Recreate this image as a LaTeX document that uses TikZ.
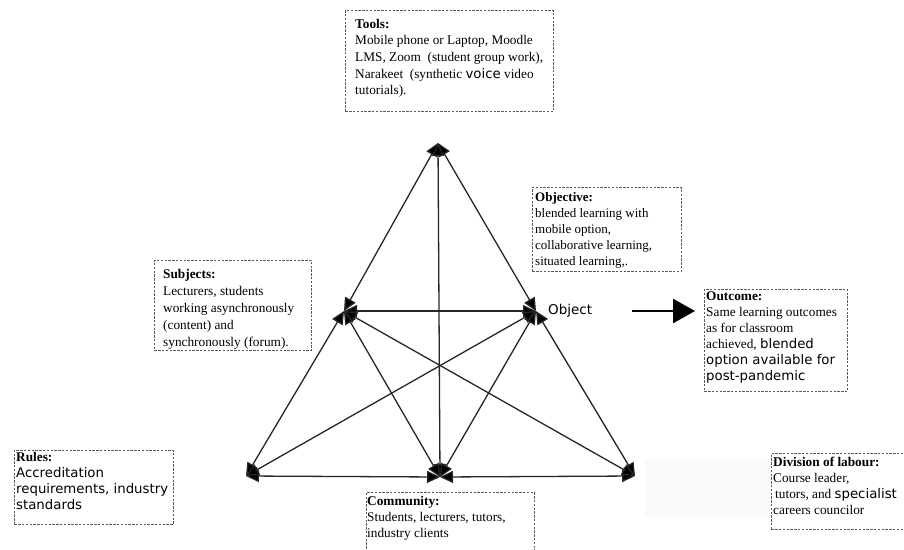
\documentclass[tikz,border=0pt]{standalone}
\usepackage{fontspec}
\setmainfont{Liberation Serif}
\setsansfont{DejaVu Sans}
\usetikzlibrary{arrows.meta}

\tikzset{
  dbox/.style={draw=black!65, line width=0.9pt, dash pattern=on 2.4pt off 1.4pt,
    anchor=north west, inner sep=0pt},
  txt/.style={anchor=base west, inner sep=0pt, font=\fontsize{13.3}{16.3}\selectfont},
  link/.style={line width=1.3pt, draw=black!85,
    {Triangle[length=13pt,width=12pt,fill=black]}-{Triangle[length=13pt,width=12pt,fill=black]}},
}
\newcommand{\boxtext}[1]{\parbox[t]{220pt}{\raggedright #1}}

\begin{document}
\begin{tikzpicture}[x=1pt,y=-1pt]
\useasboundingbox (0,0) rectangle (904,549);

% Corners of the triangle
\coordinate (tool) at (438,143);
\coordinate (subj) at (344,311);
\coordinate (obj) at (536,311);
\coordinate (rule) at (246,476);
\coordinate (comm) at (440,477);
\coordinate (divl) at (635,476);

% Outer and inner links
\draw[link] (tool) -- (subj);
\draw[link] (tool) -- (obj);
\draw[link] (tool) -- (comm);
\draw[link] (subj) -- (obj);
\draw[link] (subj) -- (rule);
\draw[link] (obj) -- (divl);
\draw[link] (subj) -- (comm);
\draw[link] (obj) -- (comm);
\draw[link] (rule) -- (comm);
\draw[link] (comm) -- (divl);
\draw[link] (rule) -- (obj);
\draw[link] (divl) -- (subj);

% Boxes
\node[dbox, minimum width=208pt, minimum height=101pt] (toolsbox) at (345,10) {};
\node[dbox, minimum width=149pt, minimum height=84pt] (objbox) at (532,187) {};
\node[dbox, minimum width=157pt, minimum height=90pt] (subjbox) at (154,260) {};
\node[dbox, minimum width=143pt, minimum height=102pt] (outcomebox) at (704,289) {};
\node[dbox, minimum width=159pt, minimum height=74pt] (rulesbox) at (14,450) {};
\node[dbox, minimum width=168pt, minimum height=70pt] (commbox) at (366,492) {};
\fill[gray!4] (645,460) rectangle (770,516);
\node[dbox, minimum width=140pt, minimum height=76pt] (divbox) at (771,453) {};

% Texts
\node[txt, font=\fontsize{13.3}{16.7}\selectfont] (tools) at (355,28)
  {\boxtext{\textbf{Tools:}\\ Mobile phone or Laptop, Moodle\\ LMS, Zoom~ (student group work),\\
   Narakeet~ (synthetic {\sffamily voice} video\\ tutorials).}};
\node[txt, font=\fontsize{13}{16}\selectfont] (objective) at (535,201)
  {\boxtext{\textbf{Objective:}\\ blended learning with\\ mobile option,\\ collaborative learning,\\
   situated learning,.}};
\node[txt, font=\fontsize{13.3}{17}\selectfont] (subjects) at (163,278)
  {\boxtext{\textbf{Subjects:}\\ Lecturers, students\\ working asynchronously\\ (content) and\\
   synchronously (forum).}};
\node[txt, font=\fontsize{13.3}{16}\selectfont] (outcome) at (706,300)
  {\boxtext{\textbf{Outcome:}\\ Same learning outcomes\\ as for classroom\\
   achieved, {\sffamily blended}\\ {\sffamily option available for}\\ {\sffamily post-pandemic}}};
\node[txt] (rules) at (16,461)
  {\boxtext{\textbf{Rules:}\\ {\sffamily Accreditation}\\ {\sffamily requirements, industry}\\
   {\sffamily standards}}};
\node[txt] (community) at (367,505)
  {\boxtext{\textbf{Community:}\\ Students, lecturers, tutors,\\ industry clients}};
\node[txt, font=\fontsize{13.3}{16}\selectfont] (division) at (773,466)
  {\boxtext{\textbf{Division of labour:}\\ Course leader,\\ \hspace*{2pt}tutors, and {\sffamily specialist}\\
   careers councilor}};

% Object and outcome arrow
\node[txt, font=\sffamily\fontsize{13.5}{16}\selectfont] (object) at (548,314) {Object};
\coordinate (outstart) at (632,311);
\draw[line width=2.6pt, shorten >=9pt, -{Triangle[length=22pt,width=24pt]}]
  (outstart) -- (outstart -| outcomebox.west);

\end{tikzpicture}
\end{document}
